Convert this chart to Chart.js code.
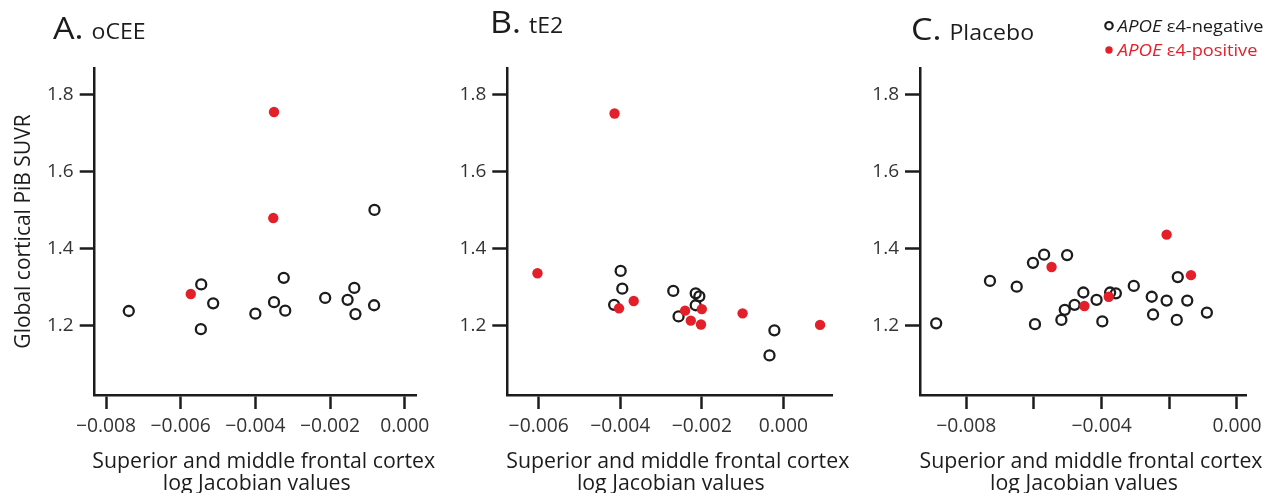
<!DOCTYPE html>
<html lang="en">
<head>
    <meta charset="UTF-8">
    <title>PiB SUVR vs log Jacobian</title>
    <script src="https://cdn.jsdelivr.net/npm/chart.js"></script>
    <style>
        html, body { margin: 0; padding: 0; background: #fff; overflow: hidden; }
        canvas { position: absolute; top: 0; }
    </style>
</head>
<body>
    <canvas id="panelA" width="445" height="500" style="left:0px"></canvas>
    <canvas id="panelB" width="430" height="500" style="left:430px"></canvas>
    <canvas id="panelC" width="426" height="500" style="left:850px"></canvas>

    <script>
        // Panel A - oCEE
        const aNegX = [-0.00739, -0.00545, -0.00513, -0.00546, -0.00400, -0.00350, -0.00324, -0.00320, -0.00213, -0.00153, -0.00135, -0.00132, -0.00082, -0.00081];
        const aNegY = [1.238, 1.307, 1.258, 1.191, 1.231, 1.261, 1.324, 1.239, 1.272, 1.267, 1.298, 1.230, 1.253, 1.500];
        const aPosX = [-0.00573, -0.00350, -0.00352];
        const aPosY = [1.282, 1.754, 1.479];

        // Panel B - tE2
        const bNegX = [-0.00399, -0.00395, -0.00415, -0.00270, -0.00257, -0.00215, -0.00206, -0.00215, -0.00022, -0.00034];
        const bNegY = [1.342, 1.296, 1.254, 1.290, 1.224, 1.284, 1.276, 1.253, 1.188, 1.123];
        const bPosX = [-0.00414, -0.00603, -0.00403, -0.00367, -0.00241, -0.00227, -0.00200, -0.00202, -0.00100, 0.00090];
        const bPosY = [1.750, 1.336, 1.245, 1.264, 1.239, 1.213, 1.243, 1.203, 1.232, 1.202];

        // Panel C - Placebo
        const cNegX = [-0.00889, -0.00730, -0.00651, -0.00603, -0.00570, -0.00597, -0.00502, -0.00509, -0.00519, -0.00480, -0.00454, -0.00415, -0.00398, -0.00375, -0.00358, -0.00305, -0.00252, -0.00248, -0.00208, -0.00175, -0.00178, -0.00147, -0.00089];
        const cNegY = [1.206, 1.316, 1.301, 1.363, 1.384, 1.204, 1.383, 1.241, 1.215, 1.254, 1.286, 1.267, 1.211, 1.286, 1.284, 1.303, 1.275, 1.229, 1.265, 1.326, 1.215, 1.265, 1.234];
        const cPosX = [-0.00548, -0.00451, -0.00379, -0.00208, -0.00136];
        const cPosY = [1.352, 1.251, 1.275, 1.436, 1.331];

        // Ticks
        const yTicks = [1.2, 1.4, 1.6, 1.8];
        const yTickLabels = ['1.2', '1.4', '1.6', '1.8'];
        const aXTicks = [-0.008, -0.006, -0.004, -0.002, 0];
        const aXTickLabels = ['\u22120.008', '\u22120.006', '\u22120.004', '\u22120.002', '0.000'];
        const bXTicks = [-0.006, -0.004, -0.002, 0];
        const bXTickLabels = ['\u22120.006', '\u22120.004', '\u22120.002', '0.000'];
        const cXTicks = [-0.008, -0.006, -0.004, -0.002, 0];
        const cXTickLabels = ['\u22120.008', '', '\u22120.004', '', '0.000'];

        const xTitleLines = ['Superior and middle frontal cortex', 'log Jacobian values'];

        const FONT = "'Open Sans', 'DejaVu Sans', sans-serif";
        const RED = '#e3202a';
        const INK = '#1c1c1c';
        const STRETCH = 1.1; // the source lettering runs a bit wide

        function toPoints(xs, ys) {
            return xs.map((x, i) => ({ x: x, y: ys[i] }));
        }

        // text drawn a little wider than the font's natural width
        function wideText(ctx, text, x, y, sx, align) {
            const w = ctx.measureText(text).width * sx;
            let left = x;
            if (align === 'center') left = x - w / 2;
            ctx.save();
            ctx.translate(left, y);
            ctx.scale(sx, 1);
            ctx.fillText(text, 0, 0);
            ctx.restore();
            return w;
        }

        // panel titles, two-line x titles and the legend
        const panelText = {
            id: 'panelText',
            afterDraw(chart, args, opts) {
                const ctx = chart.ctx;
                const area = chart.chartArea;
                ctx.save();
                ctx.textBaseline = 'alphabetic';
                ctx.textAlign = 'left';
                ctx.fillStyle = INK;

                ctx.font = '31px ' + FONT;
                const w = wideText(ctx, opts.letter, opts.x, opts.baseline, STRETCH);
                ctx.font = '21px ' + FONT;
                wideText(ctx, opts.name, opts.x + w + 8, opts.baseline, STRETCH);

                // x axis title, both lines share the scale of the first one
                const mid = (area.left + area.right) / 2;
                ctx.font = '21.5px ' + FONT;
                const sx = 343 / ctx.measureText(xTitleLines[0]).width;
                wideText(ctx, xTitleLines[0], mid + 8, 467.5, sx, 'center');
                wideText(ctx, xTitleLines[1], mid + 1, 490, sx, 'center');

                if (opts.legend) {
                    const rows = [
                        { y: 31.7, text: '\u03b54-negative', color: INK, open: true },
                        { y: 56, text: '\u03b54-positive', color: RED, open: false }
                    ];
                    rows.forEach(r => {
                        ctx.beginPath();
                        ctx.arc(259, r.y - 6, 3.7, 0, Math.PI * 2);
                        if (r.open) {
                            ctx.lineWidth = 2.2;
                            ctx.strokeStyle = r.color;
                            ctx.stroke();
                        } else {
                            ctx.fillStyle = r.color;
                            ctx.fill();
                        }
                        ctx.fillStyle = r.color;
                        ctx.font = 'italic 17px ' + FONT;
                        const aw = wideText(ctx, 'APOE', 267.5, r.y, STRETCH);
                        ctx.font = '17px ' + FONT;
                        wideText(ctx, r.text, 267.5 + aw + 5, r.y, 1.07);
                    });
                }
                ctx.restore();
            }
        };

        function makePanel(id, p) {
            const ctx = document.getElementById(id).getContext('2d');
            return new Chart(ctx, {
                type: 'scatter',
                data: {
                    datasets: [{
                        label: 'APOE \u03b54-positive',
                        data: toPoints(p.posX, p.posY),
                        backgroundColor: RED,
                        borderColor: RED,
                        borderWidth: 0,
                        pointRadius: 5.2,
                        order: 0
                    }, {
                        label: 'APOE \u03b54-negative',
                        data: toPoints(p.negX, p.negY),
                        backgroundColor: 'rgba(0,0,0,0)',
                        borderColor: INK,
                        borderWidth: 2.3,
                        pointRadius: 5,
                        order: 1
                    }]
                },
                options: {
                    responsive: false,
                    animation: false,
                    layout: { padding: { left: 0, top: 68, right: p.padRight, bottom: 0 } },
                    plugins: {
                        legend: { display: false },
                        tooltip: { enabled: false },
                        panelText: p.text
                    },
                    scales: {
                        x: {
                            type: 'linear',
                            min: p.xMin,
                            max: p.xMax,
                            afterBuildTicks: s => { s.ticks = p.xTicks.map(v => ({ value: v })); },
                            afterFit: s => { s.height = 105; },
                            border: { display: true, color: INK, width: 2.5 },
                            grid: { drawOnChartArea: false, drawTicks: true, tickLength: 14, tickWidth: 2.5, tickColor: INK },
                            ticks: {
                                padding: 6,
                                color: '#333',
                                font: { family: FONT, size: 19.3 },
                                callback: (v, i) => p.xTickLabels[i]
                            }
                        },
                        y: {
                            type: 'linear',
                            min: 1.0203,
                            max: 1.868,
                            afterBuildTicks: s => { s.ticks = yTicks.map(v => ({ value: v })); },
                            afterFit: s => { s.width = p.yWidth; },
                            border: { display: true, color: INK, width: 2.5 },
                            grid: { drawOnChartArea: false, drawTicks: true, tickLength: 15, tickWidth: 2.5, tickColor: INK },
                            ticks: {
                                padding: 6,
                                color: '#333',
                                font: { family: FONT, size: 19 },
                                callback: (v, i) => yTickLabels[i]
                            },
                            title: {
                                display: p.yTitle,
                                text: 'Global cortical PiB SUVR',
                                color: INK,
                                font: { family: FONT, size: 21 },
                                padding: { top: 11, bottom: 0 }
                            }
                        }
                    }
                },
                plugins: [panelText]
            });
        }

        makePanel('panelA', {
            negX: aNegX, negY: aNegY, posX: aPosX, posY: aPosY,
            xMin: -0.008303, xMax: 0.000321, xTicks: aXTicks, xTickLabels: aXTickLabels,
            yWidth: 94.7, padRight: 445 - 416.7, yTitle: true,
            text: { letter: 'A.', name: 'oCEE', x: 53, baseline: 39 }
        });

        makePanel('panelB', {
            negX: bNegX, negY: bNegY, posX: bPosX, posY: bPosY,
            xMin: -0.00677, xMax: 0.0012, xTicks: bXTicks, xTickLabels: bXTickLabels,
            yWidth: 77.3, padRight: 430 - 402.3, yTitle: false,
            text: { letter: 'B.', name: 'tE2', x: 60, baseline: 33 }
        });

        makePanel('panelC', {
            negX: cNegX, negY: cNegY, posX: cPosX, posY: cPosY,
            xMin: -0.009368, xMax: 0.000266, xTicks: cXTicks, xTickLabels: cXTickLabels,
            yWidth: 70, padRight: 30, yTitle: false,
            text: { letter: 'C.', name: 'Placebo', x: 61, baseline: 40, legend: true }
        });
    </script>
</body>
</html>
